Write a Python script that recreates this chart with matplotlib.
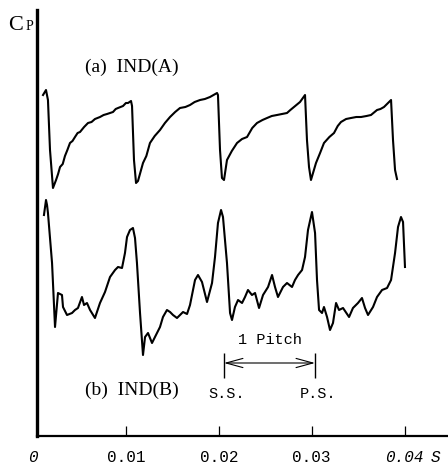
import matplotlib.pyplot as plt

plt.rcParams['mathtext.fontset'] = 'stix'

# time axis in seconds, Cp in arbitrary units (trace offsets as drawn)
t_a = [0.00108, 0.00140, 0.00161, 0.00183, 0.00215, 0.00248, 0.00270, 0.00291,
       0.00320, 0.00344, 0.00370, 0.00398, 0.00425, 0.00452, 0.00480, 0.00506,
       0.00550, 0.00592, 0.00630, 0.00667, 0.00721, 0.00760, 0.00797, 0.00861,
       0.00890, 0.00915, 0.00969, 0.01000, 0.01023, 0.01055, 0.01066, 0.01087,
       0.01109, 0.01130, 0.01184, 0.01220, 0.01259, 0.01310, 0.01367, 0.01420,
       0.01475, 0.01530, 0.01582, 0.01640, 0.01690, 0.01740, 0.01798, 0.01850,
       0.01905, 0.01981, 0.01991, 0.02013, 0.02034, 0.02056, 0.02088, 0.02140,
       0.02196, 0.02250, 0.02304, 0.02360, 0.02411, 0.02470, 0.02519, 0.02570,
       0.02626, 0.02680, 0.02734, 0.02770, 0.02809, 0.02874, 0.02928, 0.02949,
       0.02971, 0.02992, 0.03046, 0.03090, 0.03132, 0.03190, 0.03240, 0.03280,
       0.03315, 0.03370, 0.03423, 0.03480, 0.03531, 0.03590, 0.03638, 0.03703,
       0.03740, 0.03778, 0.03854, 0.03875, 0.03897, 0.03918]
cp_a = [3.41, 3.46, 3.36, 2.86, 2.48, 2.56, 2.62, 2.69,
        2.72, 2.80, 2.86, 2.93, 2.95, 2.99, 3.03, 3.04,
        3.09, 3.13, 3.14, 3.17, 3.19, 3.21, 3.22, 3.24,
        3.27, 3.28, 3.30, 3.33, 3.33, 3.35, 3.30, 2.76,
        2.53, 2.55, 2.73, 2.80, 2.93, 3.00, 3.06, 3.13,
        3.19, 3.24, 3.28, 3.29, 3.31, 3.34, 3.36, 3.37,
        3.39, 3.43, 3.41, 2.86, 2.58, 2.56, 2.76, 2.85,
        2.93, 2.97, 2.99, 3.08, 3.13, 3.16, 3.18, 3.20,
        3.21, 3.22, 3.23, 3.26, 3.29, 3.34, 3.41, 2.96,
        2.69, 2.56, 2.73, 2.83, 2.93, 2.99, 3.03, 3.10,
        3.14, 3.17, 3.18, 3.19, 3.19, 3.20, 3.21, 3.26,
        3.27, 3.29, 3.36, 2.96, 2.66, 2.57]

t_b = [0.00118, 0.00140, 0.00151, 0.00161, 0.00205, 0.00237, 0.00269, 0.00312,
       0.00323, 0.00366, 0.00420, 0.00452, 0.00484, 0.00527, 0.00549, 0.00581,
       0.00614, 0.00667, 0.00721, 0.00775, 0.00829, 0.00883, 0.00915, 0.00958,
       0.00990, 0.01012, 0.01044, 0.01076, 0.01098, 0.01119, 0.01152, 0.01184,
       0.01206, 0.01238, 0.01281, 0.01313, 0.01367, 0.01399, 0.01442, 0.01475,
       0.01507, 0.01550, 0.01615, 0.01658, 0.01690, 0.01744, 0.01776, 0.01819,
       0.01873, 0.01927, 0.01959, 0.01991, 0.02024, 0.02045, 0.02088, 0.02121,
       0.02142, 0.02174, 0.02207, 0.02250, 0.02282, 0.02314, 0.02357, 0.02390,
       0.02433, 0.02476, 0.02530, 0.02573, 0.02605, 0.02637, 0.02691, 0.02734,
       0.02788, 0.02820, 0.02853, 0.02896, 0.02928, 0.02960, 0.03003, 0.03036,
       0.03057, 0.03079, 0.03111, 0.03132, 0.03165, 0.03197, 0.03229, 0.03262,
       0.03294, 0.03337, 0.03402, 0.03444, 0.03498, 0.03541, 0.03574, 0.03606,
       0.03660, 0.03703, 0.03757, 0.03811, 0.03854, 0.03897, 0.03929, 0.03961,
       0.03983, 0.04004]
cp_b = [2.21, 2.36, 2.31, 2.23, 1.73, 1.09, 1.43, 1.41,
        1.29, 1.21, 1.23, 1.26, 1.28, 1.39, 1.31, 1.33,
        1.26, 1.18, 1.33, 1.44, 1.59, 1.66, 1.69, 1.68,
        1.83, 1.99, 2.06, 2.08, 1.98, 1.73, 1.23, 0.81,
        0.99, 1.03, 0.93, 0.99, 1.09, 1.19, 1.26, 1.24,
        1.21, 1.18, 1.24, 1.22, 1.31, 1.56, 1.61, 1.54,
        1.34, 1.53, 1.79, 2.13, 2.26, 2.19, 1.73, 1.23,
        1.16, 1.29, 1.36, 1.33, 1.39, 1.46, 1.41, 1.43,
        1.28, 1.41, 1.49, 1.61, 1.49, 1.39, 1.49, 1.53,
        1.49, 1.56, 1.61, 1.66, 1.79, 2.06, 2.24, 2.03,
        1.56, 1.26, 1.23, 1.29, 1.19, 1.06, 1.13, 1.33,
        1.26, 1.28, 1.19, 1.28, 1.33, 1.38, 1.28, 1.21,
        1.29, 1.39, 1.46, 1.48, 1.56, 1.83, 2.09, 2.19,
        2.14, 1.69]

xticks = [0, 0.01, 0.02, 0.03, 0.04]
xtick_labels = ['0', '0.01', '0.02', '0.03', '0.04']

# suction side / pressure side marks of one blade pitch
pitch_ss = 0.02056
pitch_ps = 0.03035

fig = plt.figure(figsize=(4.48, 4.68), dpi=100)
ax = fig.add_axes([33 / 448, 32 / 468, 415 / 448, 426 / 468])

ax.plot(t_a, cp_a, color='black', lw=1.5)
ax.plot(t_b, cp_b, color='black', lw=1.5)

ax.set_xlim(0, 0.04467)
ax.set_ylim(0, 4.26)

for s in ['top', 'right']:
    ax.spines[s].set_visible(False)
ax.spines['left'].set_position(('data', 0.0004))
ax.spines['left'].set_linewidth(2.4)
ax.spines['bottom'].set_linewidth(1.6)
ax.spines['bottom'].set_bounds(0.0004, 0.04467)
ax.set_yticks([])

ax.set_xticks(xticks)
ax.set_xticklabels(xtick_labels, family='Liberation Mono', fontsize=11.5)
ax.tick_params(axis='x', direction='in', length=7, width=0.9, pad=10)
ax.xaxis.get_major_ticks()[0].tick1line.set_visible(False)
labels = ax.get_xticklabels()
labels[0].set_fontstyle('italic')
labels[4].set_fontstyle('italic')
ax.text(0.0433, -0.21, 'S', family='Liberation Mono', fontsize=11.5,
        style='italic', ha='center', va='center', clip_on=False)

# C_P label
fig.text(8 / 448, 1 - 30 / 468, 'C', family='Liberation Serif', fontsize=16,
         ha='left', va='baseline')
fig.text(26 / 448, 1 - 30 / 468, 'P', family='Liberation Serif', fontsize=10,
         ha='left', va='baseline')

ax.text(0.01066, 3.69, '(a)  IND(A)', family='Liberation Serif', fontsize=14,
        ha='center', va='center')
ax.text(0.01066, 0.46, '(b)  IND(B)', family='Liberation Serif', fontsize=14,
        ha='center', va='center')

# pitch marker
ax.vlines([pitch_ss, pitch_ps], 0.58, 0.83, color='black', lw=1.0)
ax.annotate('', xy=(pitch_ps, 0.73), xytext=(pitch_ss, 0.73),
            arrowprops=dict(arrowstyle='<->,head_length=1.1,head_width=0.3',
                            lw=0.8, color='black', shrinkA=0, shrinkB=0,
                            mutation_scale=11))
ax.text((pitch_ss + pitch_ps) / 2, 0.96, '1 Pitch', family='Liberation Mono',
        fontsize=11, ha='center', va='center')
ax.text(0.02088, 0.42, 'S.S.', family='Liberation Mono', fontsize=11,
        ha='center', va='center')
ax.text(0.03068, 0.42, 'P.S.', family='Liberation Mono', fontsize=11,
        ha='center', va='center')

fig.savefig('out.png', dpi=100)
